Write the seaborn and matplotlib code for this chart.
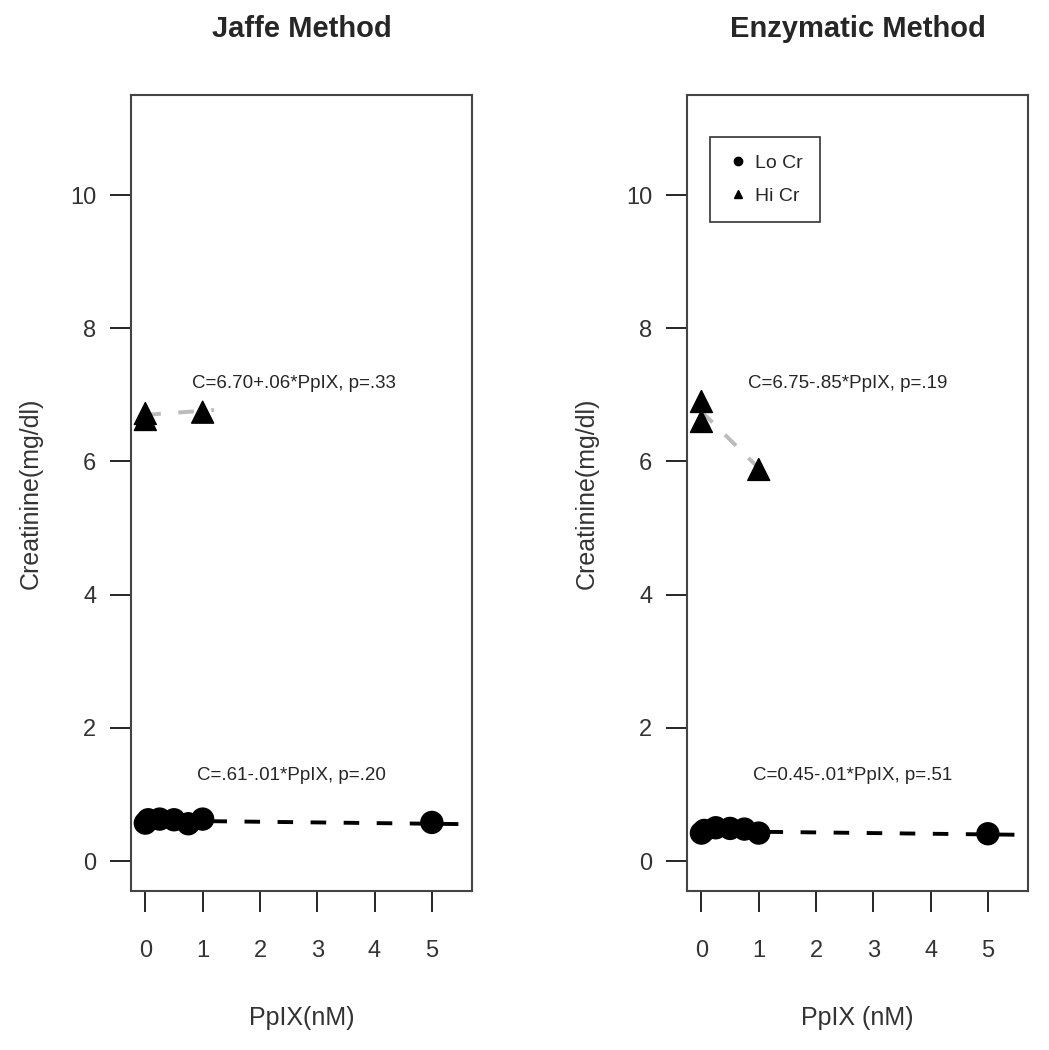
import numpy as np
import pandas as pd
import matplotlib
matplotlib.use("Agg")
import matplotlib.pyplot as plt
from matplotlib.lines import Line2D
import seaborn as sns

sns.set_style("white")
plt.rcParams['font.family'] = ['Liberation Sans', 'DejaVu Sans']

# Jaffe method
jaffe_lo_x = [0, 0.05, 0.25, 0.5, 0.75, 1.0, 5.0]
jaffe_lo_y = [0.57, 0.62, 0.63, 0.62, 0.56, 0.63, 0.58]
jaffe_hi_x = [0, 0, 1.0]
jaffe_hi_y = [6.63, 6.72, 6.74]
# Enzymatic method
enz_lo_x = [0, 0.05, 0.25, 0.5, 0.75, 1.0, 5.0]
enz_lo_y = [0.42, 0.46, 0.50, 0.49, 0.48, 0.42, 0.41]
enz_hi_x = [0, 0, 1.0]
enz_hi_y = [6.90, 6.60, 5.88]

# regression fits (intercept, slope, x end)
jaffe_lo_fit = (0.61, -0.01, 5.65)
jaffe_hi_fit = (6.70, 0.06, 1.2)
enz_lo_fit = (0.45, -0.01, 5.65)
enz_hi_fit = (6.75, -0.85, 1.2)

jaffe_lo_txt = "C=.61-.01*PpIX, p=.20"
jaffe_hi_txt = "C=6.70+.06*PpIX, p=.33"
enz_lo_txt = "C=0.45-.01*PpIX, p=.51"
enz_hi_txt = "C=6.75-.85*PpIX, p=.19"

fig = plt.figure(figsize=(10.49, 10.5), dpi=100)
ax1 = fig.add_axes([0.1249, 0.1514, 0.325, 0.758])
ax2 = fig.add_axes([0.655, 0.1514, 0.325, 0.758])


def panel(ax, lo_x, lo_y, hi_x, hi_y, lo_fit, hi_fit, lo_txt, hi_txt, title, xlabel):
    df = pd.DataFrame({
        "x": lo_x + hi_x,
        "y": lo_y + hi_y,
        "grp": ["Lo Cr"] * len(lo_x) + ["Hi Cr"] * len(hi_x),
    })
    sns.scatterplot(data=df, x="x", y="y", style="grp",
                    markers={"Lo Cr": "o", "Hi Cr": "^"}, color="black",
                    s=250, edgecolor="black", linewidth=1, legend=False, ax=ax, zorder=3)
    xs = np.array([0, lo_fit[2]])
    ax.plot(xs, lo_fit[0] + lo_fit[1] * xs, color="black", ls=(0, (4, 4.5)), lw=2.8, zorder=2)
    xs = np.array([0, hi_fit[2]])
    ax.plot(xs, hi_fit[0] + hi_fit[1] * xs, color="#bbbbbb", ls=(0, (4, 4.5)), lw=2.8, zorder=2)
    ax.text(0.82, 7.05, hi_txt, fontsize=13.5, ha="left", va="bottom")
    ax.text(0.90, 1.15, lo_txt, fontsize=13.5, ha="left", va="bottom")
    ax.set_xlim(-0.25, 5.7)
    ax.set_ylim(-0.45, 11.5)
    ax.set_xticks([0, 1, 2, 3, 4, 5])
    ax.set_yticks([0, 2, 4, 6, 8, 10])
    ax.tick_params(axis="both", direction="out", length=15, width=1.2,
                   labelsize=17, pad=20, colors="black", left=True, bottom=True)
    ax.tick_params(axis="y", pad=10)
    ax.tick_params(labelcolor="#333333")
    for sp in ax.spines.values():
        sp.set_visible(True)
        sp.set_color("#444444")
        sp.set_linewidth(1.5)
    ax.set_title(title, fontsize=21, fontweight="bold", pad=42)
    ax.set_xlabel(xlabel, fontsize=18, labelpad=32, color="#333333")
    ax.set_ylabel("Creatinine(mg/dl)", fontsize=18, labelpad=20, color="#333333")


panel(ax1, jaffe_lo_x, jaffe_lo_y, jaffe_hi_x, jaffe_hi_y, jaffe_lo_fit, jaffe_hi_fit,
      jaffe_lo_txt, jaffe_hi_txt, "Jaffe Method", "PpIX(nM)")
panel(ax2, enz_lo_x, enz_lo_y, enz_hi_x, enz_hi_y, enz_lo_fit, enz_hi_fit,
      enz_lo_txt, enz_hi_txt, "Enzymatic Method", "PpIX (nM)")

handles = [Line2D([], [], marker="o", color="black", ls="none", markersize=6, label="Lo Cr"),
           Line2D([], [], marker="^", color="black", ls="none", markersize=6, label="Hi Cr")]
leg = ax2.legend(handles=handles, loc="upper left", bbox_to_anchor=(0.04, 0.96),
                 fontsize=14, frameon=True, fancybox=False, edgecolor="black",
                 handletextpad=0.4, borderpad=0.9, labelspacing=0.8, handlelength=1.0)
leg.get_frame().set_linewidth(1.2)

fig.savefig("out.png", dpi=100)
